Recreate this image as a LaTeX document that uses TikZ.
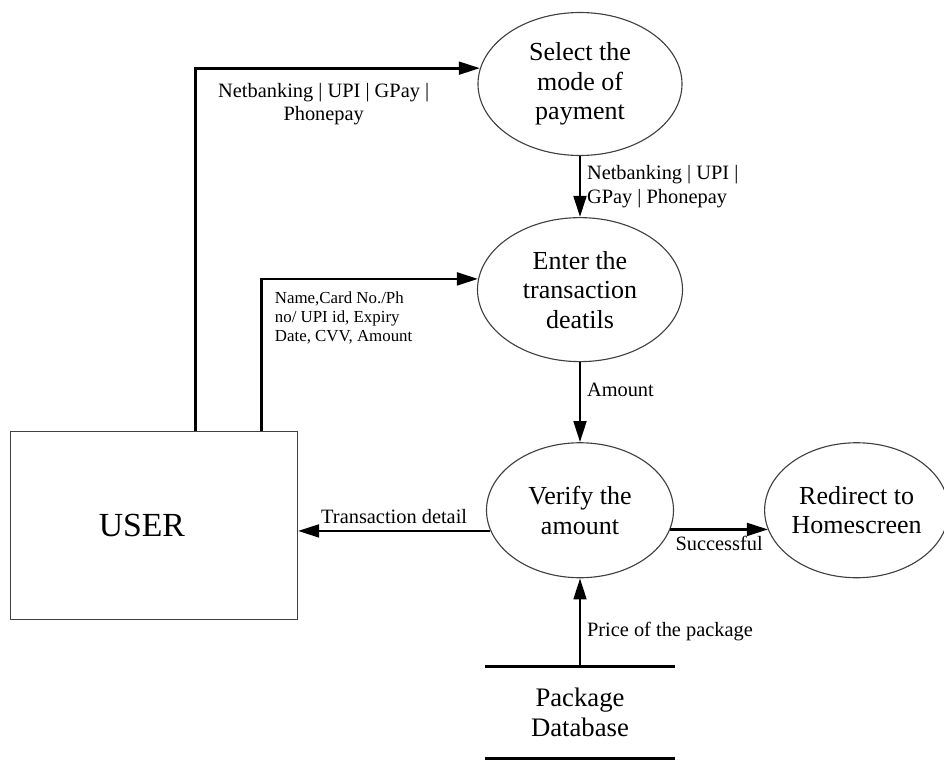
\documentclass[tikz,border=0pt]{standalone}
\usepackage{fontspec}
\setmainfont{Liberation Serif}
\usetikzlibrary{shapes.geometric,arrows.meta,positioning}

\begin{document}
\begin{tikzpicture}[
        node distance=1.5cm,
        >={Triangle[length=15pt,width=9pt]},
        process/.style={
            ellipse,
            draw=black!75,
            line width=0.8pt,
            inner sep=0pt,
            align=center,
            font=\fontsize{18.5}{21}\selectfont
        },
        entity/.style={
            rectangle,
            draw=black!75,
            line width=0.8pt,
            font=\fontsize{24}{28}\selectfont
        },
        store/.style={
            rectangle,
            inner sep=0pt,
            align=center,
            font=\fontsize{19}{21.5}\selectfont
        },
        flow/.style={
            draw,
            ->,
            line width=2pt
        },
        tag/.style={
            font=\fontsize{14.5}{16.5}\selectfont,
            inner sep=4pt
        }
    ]

    \useasboundingbox (0,0) rectangle (23.6,-19.05);

    % Processes
    \node [process, minimum width=5.1cm, minimum height=3.575cm] (select) at (14.5,-2.1) {Select the\\mode of\\payment};
    \node [process, below=1.525cm of select, minimum width=5.125cm, minimum height=3.6cm] (enter) {Enter the\\transaction\\deatils};
    \node [process, below=2cm of enter, minimum width=4.675cm, minimum height=3.375cm] (verify) {Verify the\\amount};
    \node [process, right=2.25cm of verify, minimum width=4.6cm, minimum height=3.375cm] (redirect) {Redirect to\\Homescreen};

    % External entity and data store
    \node [entity, left=4.7cm of verify, yshift=-0.375cm, minimum width=7.175cm, minimum height=4.7cm] (user) {\hspace*{-0.6cm}USER};
    \node [store, below=2.2cm of verify, minimum width=4.75cm, minimum height=2.3cm] (db) {Package\\Database};
    \draw [line width=2pt] (db.north west) -- (db.north east);
    \draw [line width=2pt] (db.south west) -- (db.south east);

    % Data flows
    \path [flow] ([xshift=1.05cm]user.north) |- node [tag, pos=0.725, below, yshift=-0.2cm, align=center] {Netbanking | UPI | GPay |\\Phonepay} (select.171);
    \path [flow] ([xshift=2.7cm]user.north) |- node [tag, pos=0.5, below right, xshift=0.15cm, yshift=-0.15cm, align=left, font=\fontsize{12}{13.5}\selectfont] {Name,Card No./Ph\\no/ UPI id, Expiry\\Date, CVV, Amount} (enter.174);
    \path [flow] (select.south) -- node [tag, right, align=left] {Netbanking | UPI |\\GPay | Phonepay} (enter.north);
    \path [flow] (enter.south) -- node [tag, right, pos=0.35] {Amount} (verify.north);
    \path [flow] (verify.193) -- node [tag, above] {Transaction detail} (user.east |- verify.193);
    \path [flow] (verify.348) -- node [tag, below] {Successful} ([xshift=0.1cm]verify.348 -| redirect.west);
    \path [flow] (db.north) -- node [tag, right, pos=0.4] {Price of the package} (verify.south);

\end{tikzpicture}
\end{document}
